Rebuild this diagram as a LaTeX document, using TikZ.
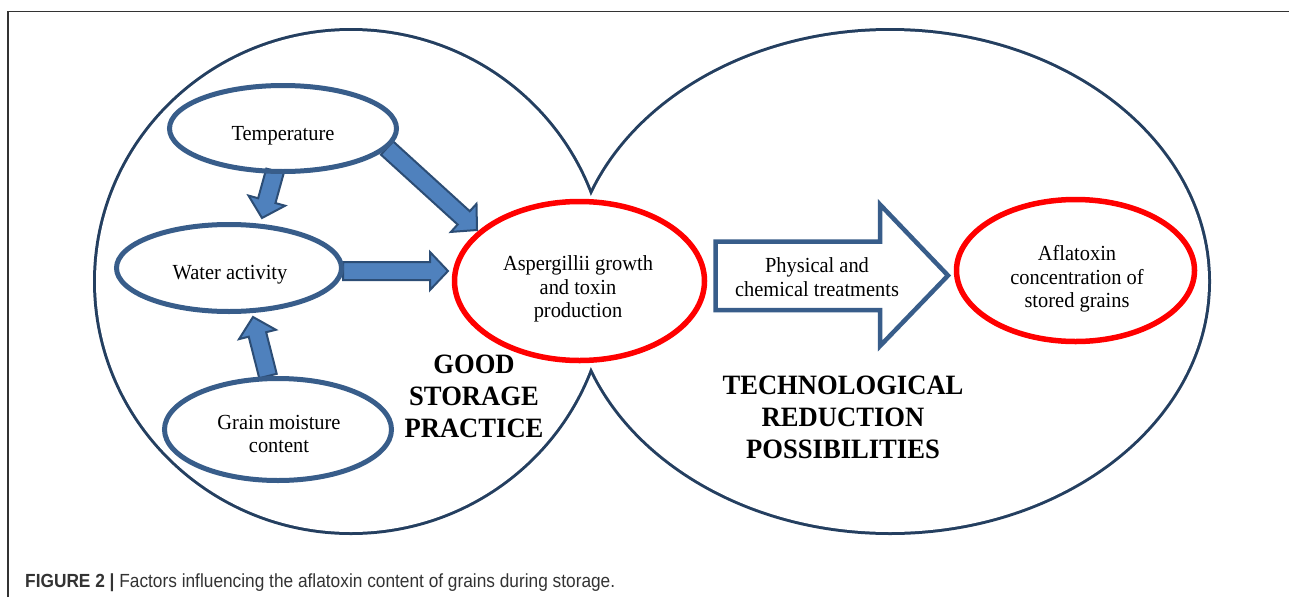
\documentclass[tikz,border=0pt]{standalone}
\usepackage{fontspec}
\usepackage{graphicx}
\setmainfont[FakeStretch=0.95]{Liberation Serif}
\newfontfamily\capfont{Liberation Sans}
\usetikzlibrary{shapes.geometric,calc}
\definecolor{navy}{HTML}{243F60}
\definecolor{boxblue}{HTML}{385D8A}
\definecolor{fillblue}{HTML}{4F81BD}
\definecolor{darkblue}{HTML}{2C4D75}
\definecolor{capgray}{HTML}{333333}
\definecolor{framegray}{HTML}{333333}
\begin{document}
\begin{tikzpicture}[x=1pt,y=-1pt,
  factor/.style={ellipse, draw=boxblue, line width=5pt, inner sep=0pt},
  result/.style={ellipse, draw=red, line width=5.5pt, inner sep=0pt},
  txt/.style={align=center, font=\fontsize{21.5}{23.5}\selectfont, inner sep=0pt},
  big/.style={align=center, font=\fontsize{28}{32}\selectfont\bfseries, inner sep=0pt},
  region/.style={draw=navy, line width=6pt},
  fatarrow/.style={draw=darkblue, fill=fillblue, line width=2pt, line join=miter,
    to path={($(\tikztostart)!9pt!90:(\tikztotarget)$)
      -- ($($(\tikztotarget)!18pt!(\tikztostart)$)!9pt!90:(\tikztotarget)$)
      -- ($($(\tikztotarget)!18pt!(\tikztostart)$)!19pt!90:(\tikztotarget)$)
      -- (\tikztotarget)
      -- ($($(\tikztotarget)!18pt!(\tikztostart)$)!19pt!-90:(\tikztotarget)$)
      -- ($($(\tikztotarget)!18pt!(\tikztostart)$)!9pt!-90:(\tikztotarget)$)
      -- ($(\tikztostart)!9pt!-90:(\tikztotarget)$)
      -- cycle}},
  hollow/.style={draw=boxblue, fill=white, line width=4.5pt, line join=miter},
]
\useasboundingbox (0,0) rectangle (1289,597);
% frame
\draw[framegray, line width=1.5pt] (8,597) -- (8,11.5) -- (1289,11.5);
% two regions (union outline)
\draw[region] (351,281.5) ellipse [x radius=255pt, y radius=250.5pt];
\draw[region] (890,281.5) ellipse [x radius=318pt, y radius=250.5pt];
\fill[white] (351,281.5) ellipse [x radius=255pt, y radius=250.5pt];
\fill[white] (890,281.5) ellipse [x radius=318pt, y radius=250.5pt];
% arrow end points
\coordinate (a1s) at (275,171);
\coordinate (a1t) at (262,218);
\coordinate (a2s) at (387,148);
\coordinate (a2t) at (477,230);
\coordinate (a3s) at (343,271);
\coordinate (a3t) at (448,271);
\coordinate (a4s) at (268,376);
\coordinate (a4t) at (253,317);
\draw[fatarrow] (a1s) to (a1t);
\draw[fatarrow] (a2s) to (a2t);
\draw[fatarrow] (a3s) to (a3t);
\draw[fatarrow] (a4s) to (a4t);
% factor ellipses
\node[factor, minimum width=227pt, minimum height=86pt] (temp) at (283,128.5) {};
\node[factor, minimum width=225pt, minimum height=87pt] (water) at (229,268) {};
\node[factor, minimum width=227pt, minimum height=102pt] (grain) at (278,429.5) {};
\node[result, minimum width=250pt, minimum height=159pt] (asp) at (579.5,281) {};
\node[result, minimum width=238pt, minimum height=142pt] (afla) at (1075.5,270.5) {};
% texts
\node[txt] (tempT) at (283,136) {Temperature};
\node[txt] (waterT) at (230,275) {Water activity};
\node[txt] (grainT) at (279,434) {Grain moisture\\content};
\node[txt] (aspT) at (578,289) {Aspergillii growth\\and toxin\\production};
\node[txt] (aflaT) at (1077,279) {Aflatoxin\\concentration of\\stored grains};
% big hollow arrow
\draw[hollow] (715.5,241.5) -- (880,241.5) -- (880,204.5) -- (948,275.5)
  -- (880,346) -- (880,310) -- (715.5,310) -- cycle;
\node[txt] (treat) at (817,277) {Physical and\\chemical treatments};
% region labels
\node[big] (good) at (474,396) {GOOD\\STORAGE\\PRACTICE};
\node[big] (tech) at (843,417) {TECHNOLOGICAL\\REDUCTION\\POSSIBILITIES};
% caption
\node[anchor=base west, inner sep=0pt, text=capgray, font=\capfont\fontsize{19}{21}\selectfont] (cap) at (25,587)
  {\resizebox{590pt}{\height}{\textbf{FIGURE 2 |} Factors influencing the aflatoxin content of grains during storage.}};
\end{tikzpicture}
\end{document}
